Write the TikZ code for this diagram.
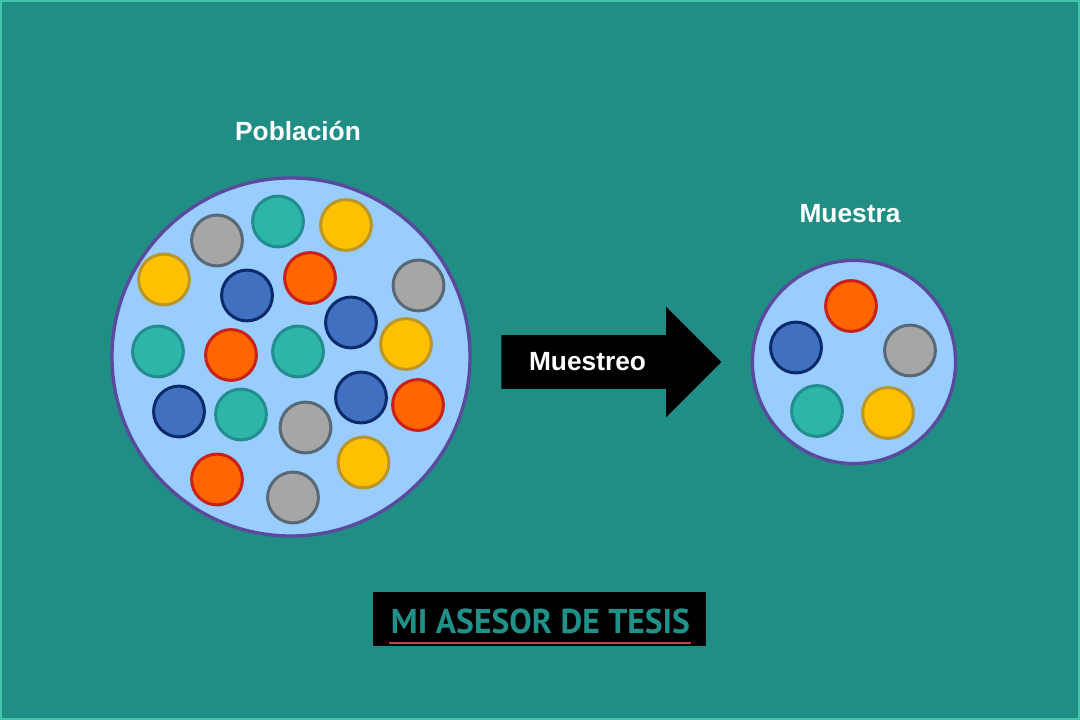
\documentclass[tikz,border=0pt]{standalone}
\usepackage{fontspec}
\setmainfont{Liberation Sans}
\newfontfamily\logofont{PT Sans}
\usepackage{xcolor}
\usetikzlibrary{shapes.arrows}
\definecolor{fondo}{HTML}{218E85}
\definecolor{marco}{HTML}{45C4AE}
\definecolor{disco}{HTML}{99CCFF}
\definecolor{borde}{HTML}{5A4A9E}
\definecolor{logotinta}{HTML}{1F9189}
\definecolor{logolinea}{HTML}{A8504A}
\tikzset{
    muestradisco/.style={draw=borde, line width=0.085cm, circle, fill=disco, inner sep=0pt},
    muestrabola/.style={circle, line width=0.075cm, minimum size=1.27cm, inner sep=0pt},
    bolagris/.style={muestrabola, draw={rgb,255:red,88;green,104;blue,116}, fill={rgb,255:red,166;green,166;blue,166}},
    bolaverde/.style={muestrabola, draw={rgb,255:red,35;green,140;blue,143}, fill={rgb,255:red,45;green,181;blue,168}},
    bolaamarilla/.style={muestrabola, draw={rgb,255:red,184;green,150;blue,43}, fill={rgb,255:red,255;green,192;blue,0}},
    bolaazul/.style={muestrabola, draw={rgb,255:red,11;green,42;blue,107}, fill={rgb,255:red,66;green,112;blue,192}},
    bolanaranja/.style={muestrabola, draw={rgb,255:red,200;green,32;blue,26}, fill={rgb,255:red,255;green,102;blue,0}},
    muestratitulo/.style={text=white, font=\fontsize{18.7}{22}\selectfont\bfseries, inner sep=0pt},
    muestraflecha/.style={single arrow, fill=black, minimum height=5.5cm,
        single arrow head extend=0.7125cm, single arrow tip angle=90, inner sep=0pt}
}

\begin{document}
\begin{tikzpicture}[x=0.025cm, y=-0.025cm]
    \useasboundingbox (0,0) rectangle (1080,720);
    \fill[marco] (0,0) rectangle (1080,720);
    \fill[fondo] (2,2) rectangle (1078,718);

    \node[muestradisco, minimum size=8.95cm] (poblacion) at (291,357) {};
    \node[muestradisco, minimum size=5.08cm] (muestra) at (854,362) {};

    \node[muestratitulo] (titulopoblacion) at (298,131) {Población};
    \node[muestratitulo] (titulomuestra) at (850,214) {Muestra};

    % poblacion
    \node[bolagris] (p1) at (217,240.5) {};
    \node[bolaverde] (p2) at (278,221.5) {};
    \node[bolaamarilla] (p3) at (346,225) {};
    \node[bolaamarilla] (p4) at (164,279.5) {};
    \node[bolaazul] (p5) at (247,295.5) {};
    \node[bolanaranja] (p6) at (310,278) {};
    \node[bolagris] (p7) at (418.5,285.5) {};
    \node[bolaazul] (p8) at (351,322.5) {};
    \node[bolaamarilla] (p9) at (406,344) {};
    \node[bolaverde] (p10) at (158,351.5) {};
    \node[bolanaranja] (p11) at (231,355) {};
    \node[bolaverde] (p12) at (298,351.5) {};
    \node[bolaazul] (p13) at (179,411.5) {};
    \node[bolaverde] (p14) at (241,414.5) {};
    \node[bolaazul] (p15) at (361,397.5) {};
    \node[bolanaranja] (p16) at (418,405) {};
    \node[bolagris] (p17) at (305.5,427.5) {};
    \node[bolaamarilla] (p18) at (363.5,462.5) {};
    \node[bolanaranja] (p19) at (217,479.5) {};
    \node[bolagris] (p20) at (293,497.5) {};

    % muestra
    \node[bolanaranja] (m1) at (851,306) {};
    \node[bolaazul] (m2) at (796,347.5) {};
    \node[bolagris] (m3) at (910,350.5) {};
    \node[bolaverde] (m4) at (817,411) {};
    \node[bolaamarilla] (m5) at (888,413) {};

    \node[muestraflecha] (flecha) at (598,362) {\rule{0pt}{1.325cm}};
    \node[muestratitulo] (muestreo) at (587.5,362) {Muestreo};

    \node[fill=black, minimum width=8.33cm, minimum height=1.36cm, inner sep=0pt] (logo) at (539.5,619) {};
    \node[text=logotinta, inner sep=0pt, font=\logofont\fontsize{25}{28}\selectfont\bfseries] (logotexto) at (540.5,621)
        {\scalebox{0.955}[0.98]{MI ASESOR DE TESIS}};
    \coordinate (lineaizq) at (389,643);
    \coordinate (lineader) at (691,643);
    \draw[logolinea, line width=0.04cm] (lineaizq) -- (lineader);
\end{tikzpicture}
\end{document}
